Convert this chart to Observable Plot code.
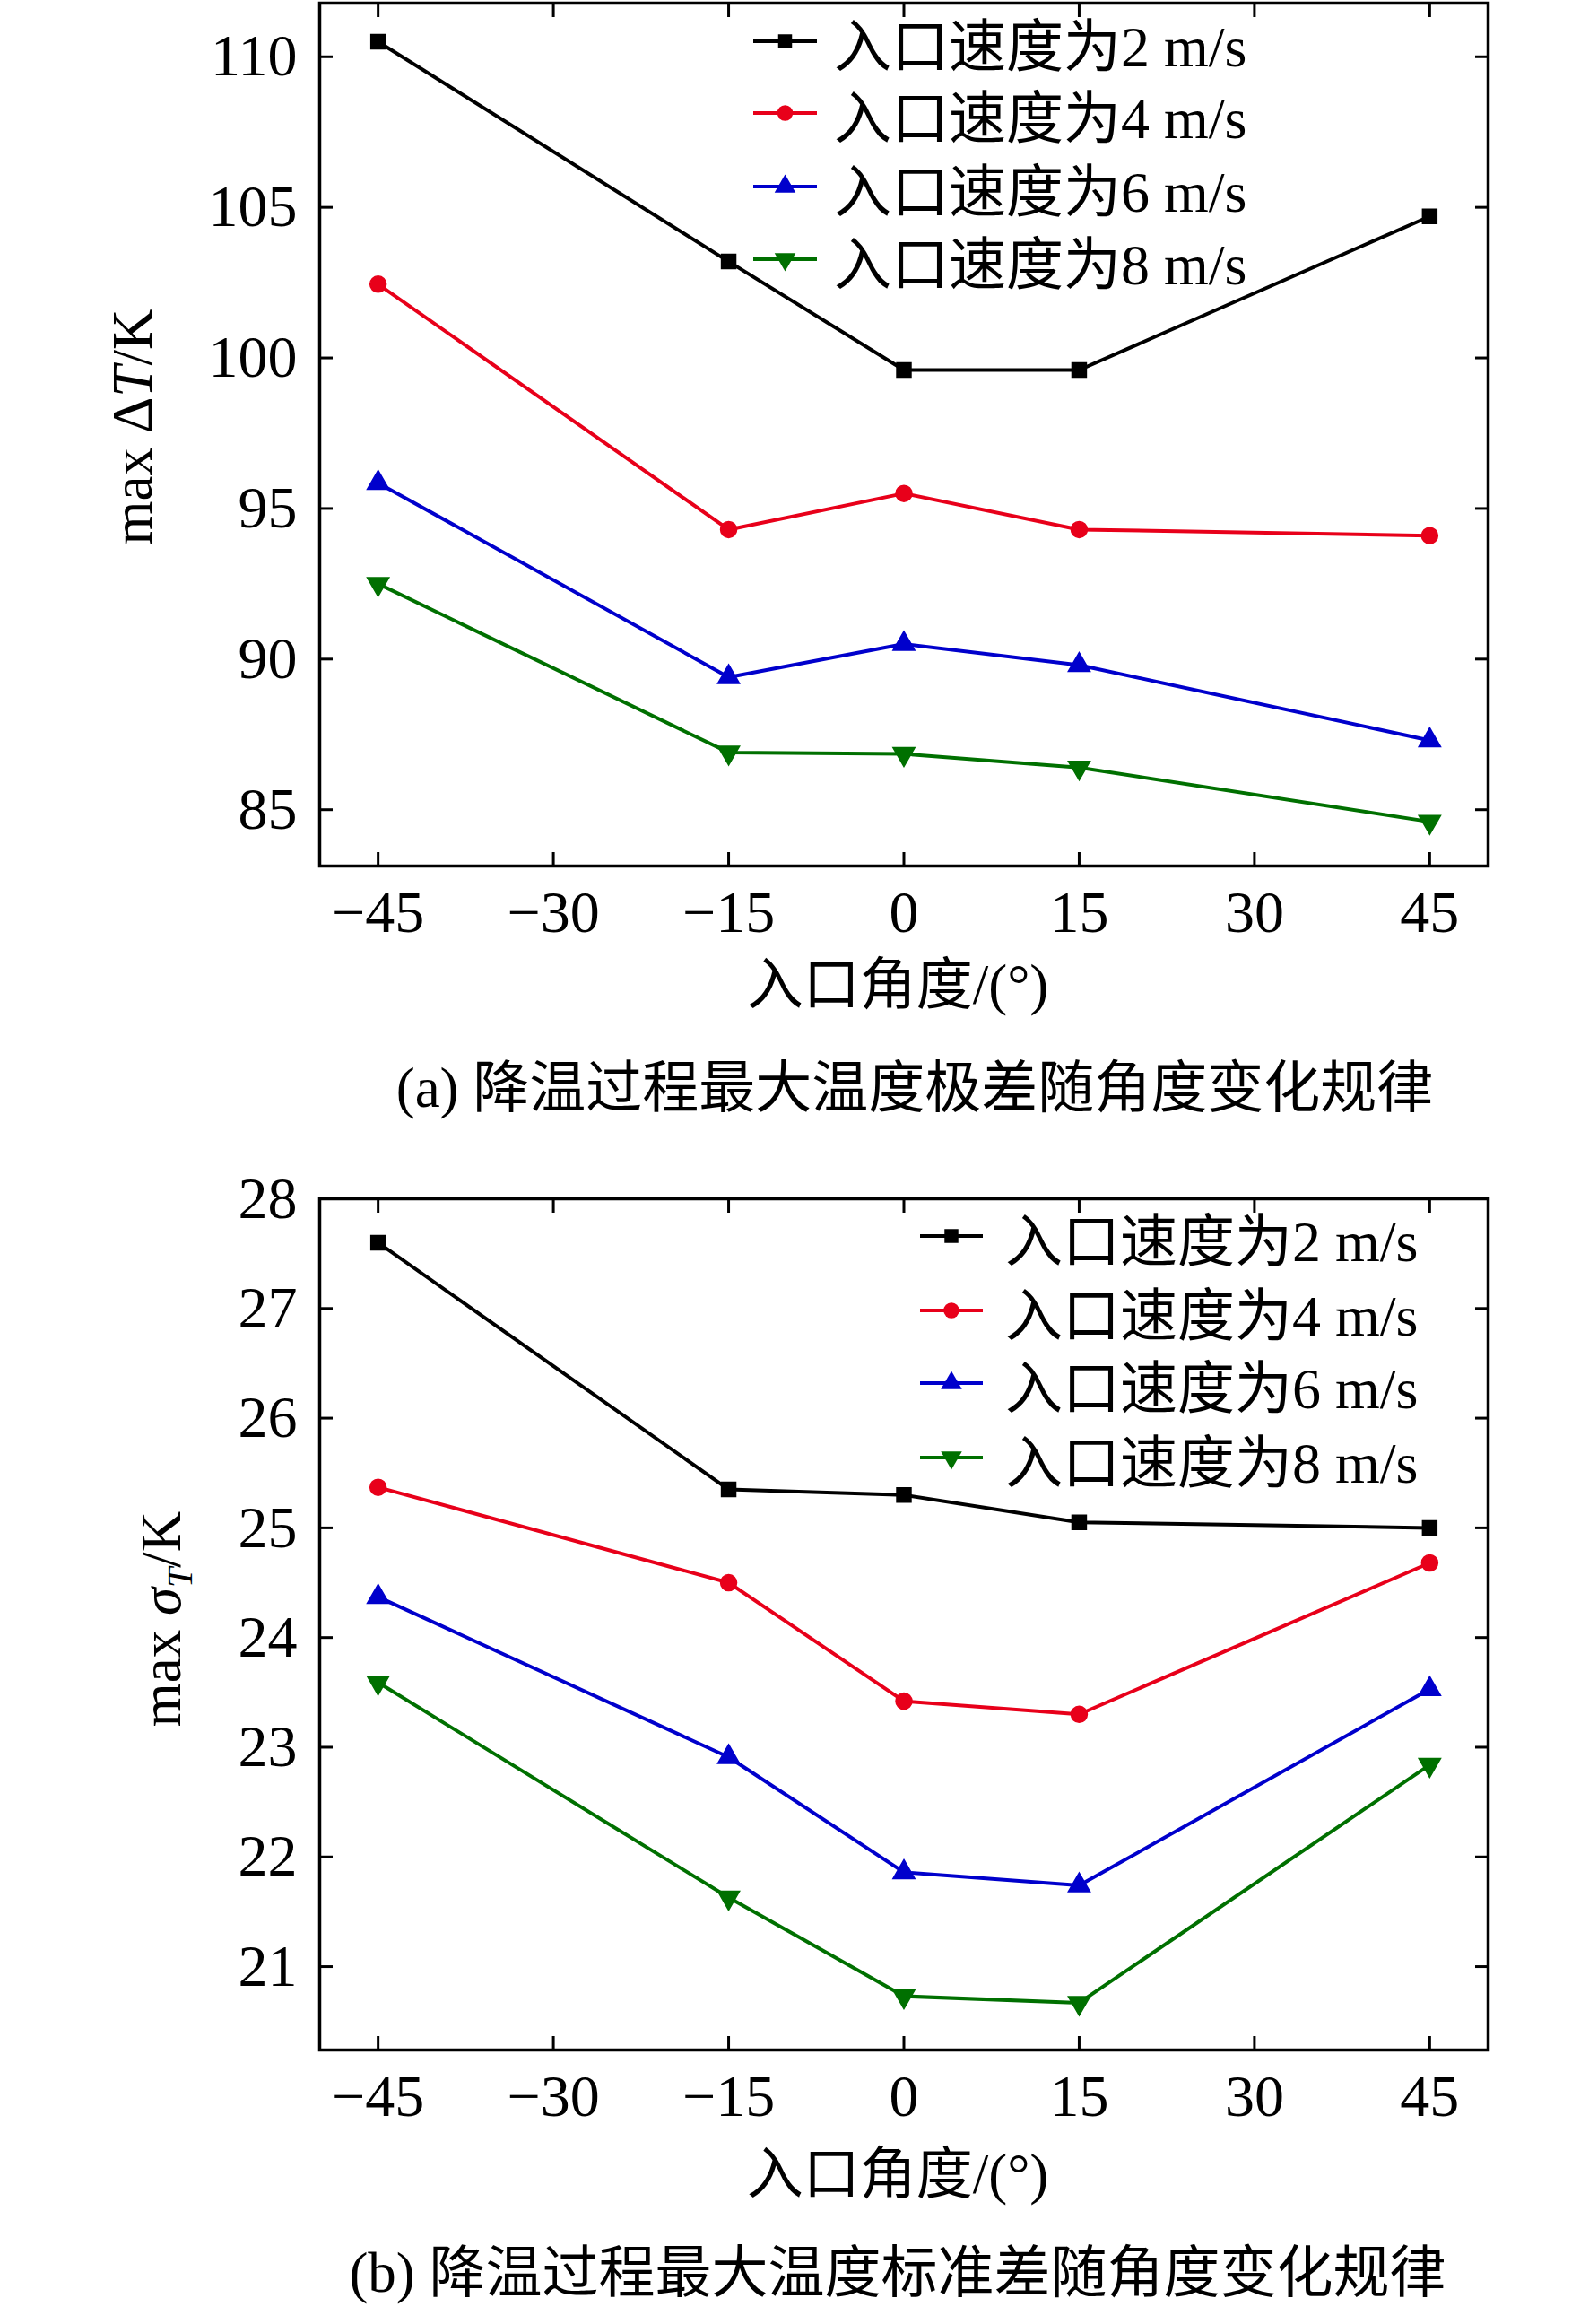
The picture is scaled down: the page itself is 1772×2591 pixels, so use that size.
<!DOCTYPE html>
<html><head><meta charset="utf-8">
<script src="https://cdn.jsdelivr.net/npm/d3@7"></script>
<script src="https://cdn.jsdelivr.net/npm/@observablehq/plot@0.6"></script>
<style>
body{margin:0;background:#fff;}
#wrap{position:relative;width:1772px;height:2591px;font-family:"Liberation Serif","Noto Sans CJK SC",serif;}
.abs{position:absolute;white-space:nowrap;}
.cap{font-size:63px;transform:translate(-50%,-50%);}
.ylab{font-size:63px;transform:translate(-50%,-50%) rotate(-90deg);}
.leg{font-size:64px;}
</style></head><body><div id="wrap"></div>
<script>
const angles = [-45, -15, 0, 15, 45];
const seriesNames = ["入口速度为2 m/s","入口速度为4 m/s","入口速度为6 m/s","入口速度为8 m/s"];
const colors = ["#000000","#e8001a","#0000cc","#007000"];
const symbols = ["square","circle","triangle","triangle"];
const rotates = [0,0,0,180];
const dT_2 = [110.5, 103.2, 99.6, 99.6, 104.7];
const dT_4 = [102.45, 94.3, 95.5, 94.3, 94.1];
const dT_6 = [95.85, 89.4, 90.5, 89.8, 87.3];
const dT_8 = [92.5, 86.9, 86.85, 86.4, 84.6];
const sd_2 = [27.6, 25.35, 25.3, 25.05, 25.0];
const sd_4 = [25.37, 24.5, 23.42, 23.3, 24.68];
const sd_6 = [24.37, 22.91, 21.86, 21.74, 23.53];
const sd_8 = [23.59, 21.63, 20.73, 20.67, 22.84];
const xTicks = [-45,-30,-15,0,15,30,45];
const yTicksA = [85,90,95,100,105,110];
const yTicksB = [21,22,23,24,25,26,27,28];

const wrap = document.getElementById("wrap");
const FONT = `"Liberation Serif","Noto Sans CJK SC",serif`;

function makePlot(series, yDomain, yTicks, mt, mb, h, top){
  const marks = [Plot.frame({stroke:"#000", strokeWidth:3.5})];
  series.forEach((vals,i)=>{
    const data = angles.map((a,j)=>({x:a,y:vals[j]}));
    marks.push(Plot.line(data,{x:"x",y:"y",stroke:colors[i],strokeWidth:4}));
    marks.push(Plot.dot(data,{x:"x",y:"y",fill:colors[i],stroke:colors[i],symbol:symbols[i],rotate:rotates[i],r:9}));
  });
  marks.push(Plot.axisX(xTicks,{anchor:"bottom",tickSize:-15,tickPadding:42,fontSize:66,fontFamily:FONT,tickFormat:d=>d<0?"\u2212"+(-d):String(d),strokeWidth:3,label:null}));
  marks.push(Plot.axisX(xTicks,{anchor:"top",tickSize:-15,tickFormat:()=>"",strokeWidth:3,label:null}));
  marks.push(Plot.axisY(yTicks,{anchor:"left",tickSize:-15,tickPadding:40,fontSize:66,fontFamily:FONT,tickFormat:d=>String(d),strokeWidth:3,label:null}));
  marks.push(Plot.axisY(yTicks,{anchor:"right",tickSize:-15,tickFormat:()=>"",strokeWidth:3,label:null}));
  const p = Plot.plot({
    width:1772, height:h, marginLeft:356, marginRight:113, marginTop:mt, marginBottom:mb,
    x:{domain:[-50,50]}, y:{domain:yDomain},
    style:{fontFamily:FONT, background:"transparent", color:"#000"},
    marks
  });
  p.style.position="absolute"; p.style.left="0px"; p.style.top=top+"px";
  wrap.appendChild(p);
}
makePlot([dT_2,dT_4,dT_6,dT_8],[83.13,111.78],yTicksA,3,185,1150,0);
makePlot([sd_2,sd_4,sd_6,sd_8],[20.24,28],yTicksB,46,155,1150,1290);

function addText(html, cls, x, y){
  const d=document.createElement("div"); d.className="abs "+cls; d.innerHTML=html;
  d.style.left=x+"px"; d.style.top=y+"px"; wrap.appendChild(d);
}
addText("入口角度/(°)","cap",1001,1091);
addText("(a) 降温过程最大温度极差随角度变化规律","cap",1020,1206);
addText("入口角度/(°)","cap",1001,2417);
addText("(b) 降温过程最大温度标准差随角度变化规律","cap",1001,2527);
addText("max Δ<i>T</i>/K","ylab",148,476);
addText("max <i>σ</i><sub style='font-size:40px'><i>T</i></sub>/K","ylab",184,1805);

function legend(x0, x1, tx, rows){
  rows.forEach((y,i)=>{
    const s=d3.select(wrap).append("svg").attr("class","abs").style("left",(x0)+"px").style("top",(y-15)+"px")
      .attr("width",x1-x0).attr("height",30);
    s.append("line").attr("x1",0).attr("x2",x1-x0).attr("y1",15).attr("y2",15).attr("stroke",colors[i]).attr("stroke-width",4);
    const sym = d3.symbol(i===0?d3.symbolSquare:i===1?d3.symbolCircle:d3.symbolTriangle, 240)();
    s.append("path").attr("d",sym).attr("fill",colors[i])
      .attr("transform",`translate(${(x1-x0)/2},15) rotate(${rotates[i]})`);
    const t=document.createElement("div"); t.className="abs leg"; t.textContent=seriesNames[i];
    t.style.left=tx+"px"; t.style.top=y+"px"; t.style.transform="translateY(-50%)"; wrap.appendChild(t);
  });
}
legend(840,911,930,[46,126,208,289]);
legend(1026,1096,1121,[1378,1461,1542,1625]);
</script></body></html>
